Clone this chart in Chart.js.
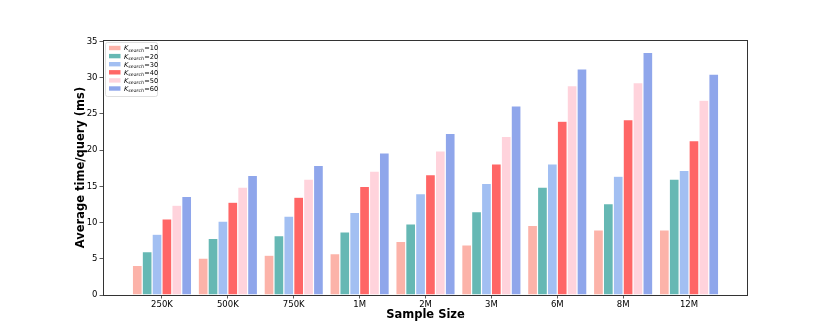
<!DOCTYPE html>
<html>
<head>
<meta charset="utf-8">
<script src="https://cdn.jsdelivr.net/npm/chart.js@4.4.0/dist/chart.umd.min.js"></script>
<style>
  body { margin: 0; background: #fff; }
  #wrap { width: 830px; height: 332px; }
</style>
</head>
<body>
<div id="wrap"><canvas id="chart" width="830" height="332"></canvas></div>
<script>
// sample sizes on the x axis
const CATEGORIES = ['250K', '500K', '750K', '1M', '2M', '3M', '6M', '8M', '12M'];
const Y_TICKS = [0, 5, 10, 15, 20, 25, 30, 35];

// average time per query (ms) for each K_search
const K_VALUES = [10, 20, 30, 40, 50, 60];
const K10 = [4.1, 5.1, 5.5, 5.7, 7.4, 6.9, 9.6, 9.0, 9.0];
const K20 = [6.0, 7.8, 8.2, 8.7, 9.8, 11.5, 14.9, 12.6, 16.0];
const K30 = [8.4, 10.2, 10.9, 11.4, 14.0, 15.4, 18.1, 16.4, 17.2];
const K40 = [10.5, 12.8, 13.5, 15.0, 16.6, 18.1, 24.0, 24.2, 21.3];
const K50 = [12.4, 14.9, 16.0, 17.1, 19.9, 21.9, 28.9, 29.3, 26.9];
const K60 = [13.6, 16.5, 17.9, 19.6, 22.3, 26.1, 31.2, 33.5, 30.5];

const SERIES = [K10, K20, K30, K40, K50, K60];
const COLORS = ['#FCB3A9', '#66B8B4', '#A2BFF2', '#FF6666', '#FFD3DC', '#8FA6EB'];

const FONT = "'DejaVu Sans', sans-serif";
const INK = '#333333';

const datasets = SERIES.map((vals, s) => ({
  label: 'K_search=' + K_VALUES[s],
  data: vals.map((v, i) => ({ x: i, y: v })),
  backgroundColor: COLORS[s],
  borderColor: 'rgba(255,255,255,0.85)',
  borderWidth: 0.6,
  borderSkipped: 'start',
  categoryPercentage: 0.9,
  barPercentage: 1.0,
}));

// frame, axis titles and the legend box, drawn the matplotlib way
const decor = {
  id: 'decor',
  afterDatasetsDraw(chart) {
    const { ctx, chartArea: a } = chart;
    ctx.save();
    ctx.strokeStyle = INK;
    ctx.lineWidth = 1;
    ctx.strokeRect(a.left + 0.5, a.top + 0.5, a.right - a.left - 1, a.bottom - a.top);

    // axis titles
    ctx.fillStyle = '#000';
    ctx.font = 'bold 11.5px ' + FONT;
    ctx.textAlign = 'center';
    ctx.textBaseline = 'middle';
    ctx.fillText('Sample Size', (a.left + a.right) / 2, 315);
    ctx.save();
    ctx.translate(81, (a.top + a.bottom) / 2);
    ctx.rotate(-Math.PI / 2);
    ctx.fillText('Average time/query (ms)', 0, 0);
    ctx.restore();

    // legend
    const bx = a.left + 2, by = a.top + 2, bw = 52, bh = 54;
    ctx.fillStyle = 'rgba(255,255,255,0.8)';
    ctx.strokeStyle = '#d6d6d6';
    ctx.lineWidth = 0.8;
    ctx.beginPath();
    ctx.roundRect(bx + 0.5, by + 0.5, bw, bh, 2);
    ctx.fill();
    ctx.stroke();
    ctx.textAlign = 'left';
    ctx.textBaseline = 'alphabetic';
    K_VALUES.forEach((k, i) => {
      const cy = by + 6 + i * 8.1;
      ctx.fillStyle = COLORS[i];
      ctx.fillRect(bx + 4, cy - 2.2, 11.5, 4.4);
      let x = bx + 19;
      const base = cy + 2.4;
      ctx.fillStyle = '#000';
      ctx.font = 'italic 6.6px ' + FONT;
      ctx.fillText('K', x, base);
      x += ctx.measureText('K').width;
      ctx.font = 'italic 4.7px ' + FONT;
      ctx.fillText('search', x, base + 1.4);
      x += ctx.measureText('search').width + 0.3;
      ctx.font = '6.6px ' + FONT;
      ctx.fillText('=' + k, x, base);
    });
    ctx.restore();
  }
};

new Chart(document.getElementById('chart'), {
  type: 'bar',
  data: { datasets },
  options: {
    responsive: false,
    animation: false,
    events: [],
    layout: { padding: { left: 0, top: 40, right: 82, bottom: 0 } },
    plugins: { legend: { display: false }, tooltip: { enabled: false } },
    scales: {
      x: {
        type: 'linear',
        offset: false,
        min: -0.895,
        max: 8.895,
        afterBuildTicks: s => { s.ticks = CATEGORIES.map((c, i) => ({ value: i })); },
        afterFit: s => { s.height = 37; },
        ticks: {
          autoSkip: false,
          maxRotation: 0,
          padding: 1,
          color: '#000',
          font: { family: FONT, size: 8.5 },
          callback: v => CATEGORIES[v],
        },
        grid: { offset: false, drawOnChartArea: false, tickLength: 3.5, tickColor: INK, tickWidth: 0.8 },
        border: { display: false },
      },
      y: {
        min: 0,
        max: 35.2,
        afterBuildTicks: s => { s.ticks = Y_TICKS.map(v => ({ value: v })); },
        afterFit: s => { s.width = 103; },
        ticks: {
          padding: 2,
          color: '#000',
          font: { family: FONT, size: 8.5 },
        },
        grid: { drawOnChartArea: false, tickLength: 3.5, tickColor: INK, tickWidth: 0.8 },
        border: { display: false },
      },
    },
  },
  plugins: [decor],
});
</script>
</body>
</html>
